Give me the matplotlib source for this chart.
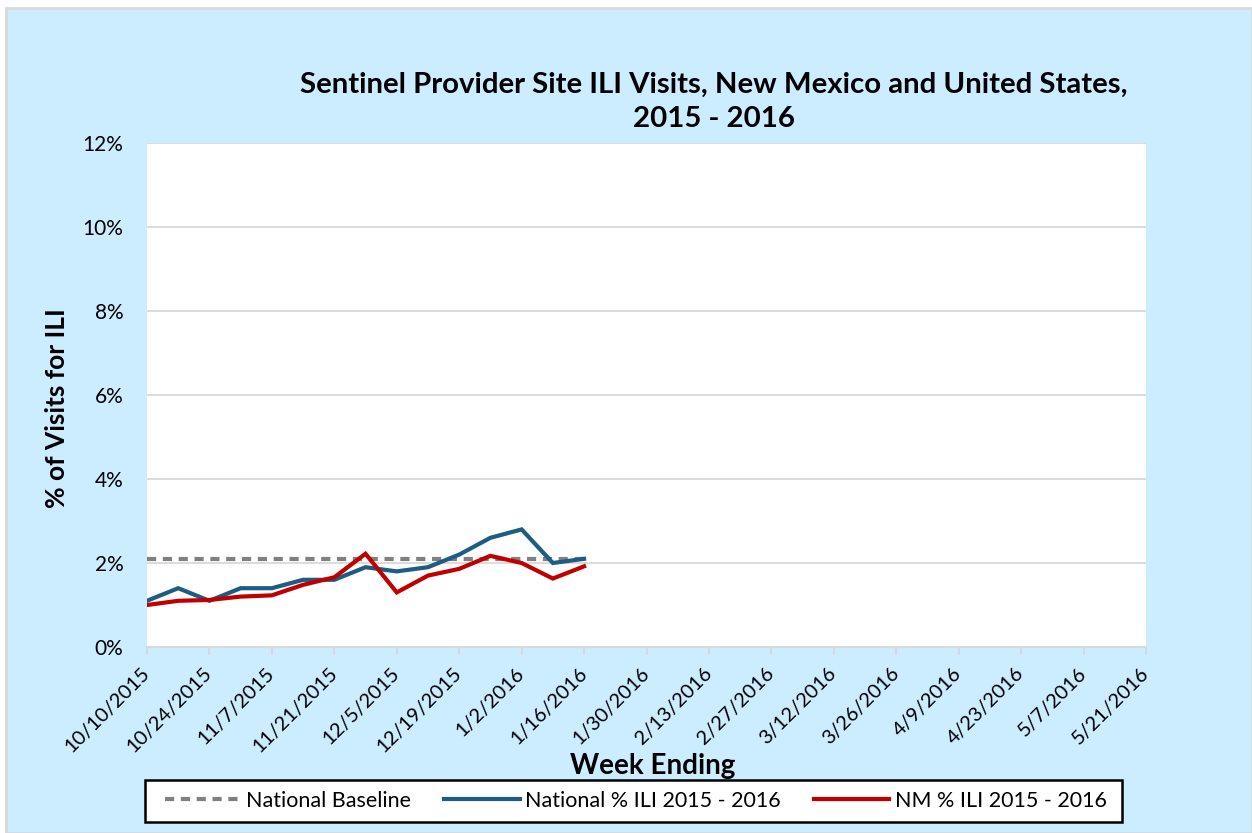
import matplotlib
matplotlib.use("Agg")
import matplotlib.pyplot as plt
from matplotlib.lines import Line2D
from matplotlib.patches import Rectangle
from matplotlib.ticker import FuncFormatter

week_labels = ["10/10/2015", "10/24/2015", "11/7/2015", "11/21/2015", "12/5/2015",
               "12/19/2015", "1/2/2016", "1/16/2016", "1/30/2016", "2/13/2016",
               "2/27/2016", "3/12/2016", "3/26/2016", "4/9/2016", "4/23/2016",
               "5/7/2016", "5/21/2016"]
n_weeks = 33  # 10/10/2015 .. 5/21/2016 weekly

national = [1.10, 1.40, 1.10, 1.40, 1.40, 1.60, 1.60, 1.90, 1.80, 1.90, 2.20,
            2.60, 2.80, 2.00, 2.10]
nm = [1.00, 1.10, 1.12, 1.20, 1.23, 1.48, 1.66, 2.22, 1.30, 1.70, 1.86,
      2.17, 2.00, 1.63, 1.92]
baseline = 2.1

font = "Lato"
plt.rcParams['font.family'] = [font, 'DejaVu Sans']

W, H = 1252, 833
fig = plt.figure(figsize=(W / 100, H / 100), dpi=100)
fig.patch.set_facecolor("white")
bg = Rectangle((6 / W, 0), 1 - 6 / W, 1 - 8 / H, transform=fig.transFigure,
               facecolor="#CCECFF", edgecolor="#D9D9D9", linewidth=2, zorder=-10)
fig.patches.append(bg)

ax = fig.add_axes([147 / W, 1 - 647 / H, (1146 - 147) / W, (647 - 143) / H])
ax.set_zorder(2)
ax.set_facecolor("white")

x = list(range(len(national)))
ax.plot([0, len(national) - 1], [baseline, baseline], color="#808080", linestyle=(0, (2.2, 1.6)),
        linewidth=3, zorder=3)
ax.plot(x, national, color="#1F5C82", linewidth=3, zorder=4, solid_joinstyle="miter")
ax.plot(x, nm, color="#C00000", linewidth=3, zorder=5, solid_joinstyle="miter")

ax.set_xlim(0, n_weeks - 1)
ax.set_ylim(0, 12)
ax.set_yticks(range(0, 13, 2))
ax.yaxis.set_major_formatter(FuncFormatter(lambda v, p: f"{int(v)}%"))
ax.set_xticks(range(0, n_weeks, 2))
ax.set_xticklabels(week_labels, rotation=45, ha="right", va="center", rotation_mode="anchor")
ax.grid(axis="y", color="#D9D9D9", linewidth=1.3)
ax.set_axisbelow(True)
for s in ["top", "right", "left"]:
    ax.spines[s].set_visible(False)
ax.spines["bottom"].set_color("#D9D9D9")
ax.spines["bottom"].set_linewidth(1.5)
ax.tick_params(axis="y", length=0, labelsize=15, pad=17)
ax.tick_params(axis="x", length=6, color="#D9D9D9", width=1.3, labelsize=14.5, pad=11)

fig.text(57 / W, 1 - 408 / H, "% of Visits for ILI", rotation=90, ha="center", va="center",
         fontsize=19, fontweight="bold")
fig.text(653 / W, 1 - 766 / H, "Week Ending", ha="center", va="center",
         fontsize=20, fontweight="bold")
fig.text(714 / W, 1 - 102 / H, "Sentinel Provider Site ILI Visits, New Mexico and United States,\n2015 - 2016",
         ha="center", va="center", fontsize=21.2, fontweight="bold", linespacing=1.35)

# legend frame
fig.patches.append(Rectangle((145 / W, 1 - 822 / H), (1122 - 145) / W, (822 - 780) / H,
                             transform=fig.transFigure, facecolor="white", edgecolor="black",
                             linewidth=1.8, zorder=3))
handles = [Line2D([], [], color="#808080", linestyle=(0, (2.2, 1.6)), linewidth=3),
           Line2D([], [], color="#1F5C82", linewidth=3),
           Line2D([], [], color="#C00000", linewidth=3)]
labels = ["National Baseline", "National % ILI 2015 - 2016", "NM % ILI 2015 - 2016"]
leg = fig.legend(handles, labels, loc="center", bbox_to_anchor=(636 / W, 1 - 801 / H),
                 ncol=3, fontsize=15.5, frameon=False, handlelength=3.5,
                 columnspacing=1.55, handletextpad=0.25, borderpad=0.3)
leg.set_zorder(4)

fig.savefig("out.png", dpi=100)
